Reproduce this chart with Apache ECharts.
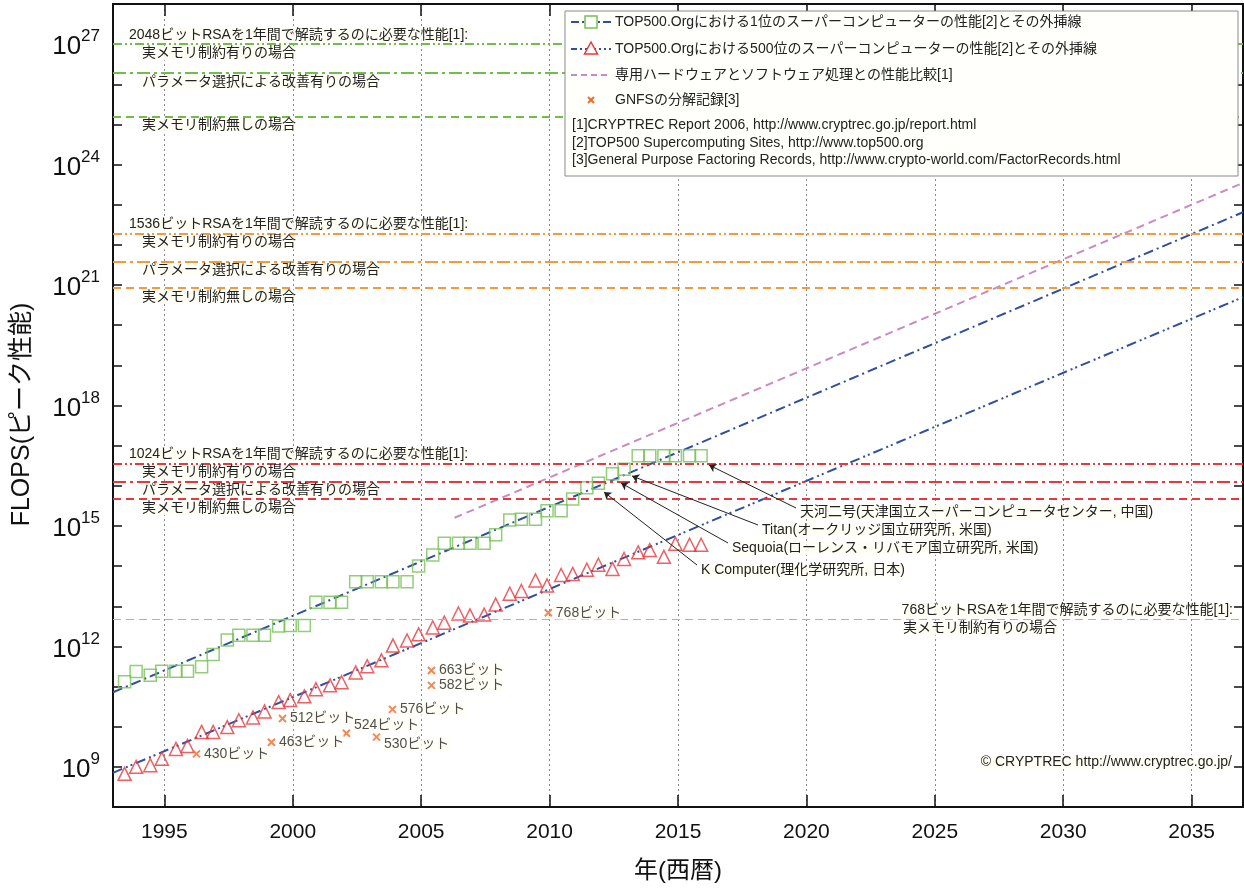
<!DOCTYPE html>
<html>
<head>
<meta charset="utf-8">
<title>FLOPS</title>
<script src="https://cdn.jsdelivr.net/npm/echarts@6/dist/echarts.min.js"></script>
<style>
  html, body { margin: 0; padding: 0; background: #fff; }
  #main { width: 1244px; height: 888px; }
</style>
</head>
<body>
<div id="main"></div>
<script>
// TOP500 list dates (June / November)
var listYears = [
  1993.45, 1993.9, 1994.45, 1994.9, 1995.45, 1995.9, 1996.45, 1996.9, 1997.45, 1997.9,
  1998.45, 1998.9, 1999.45, 1999.9, 2000.45, 2000.9, 2001.45, 2001.9, 2002.45, 2002.9,
  2003.45, 2003.9, 2004.45, 2004.9, 2005.45, 2005.9, 2006.45, 2006.9, 2007.45, 2007.9,
  2008.45, 2008.9, 2009.45, 2009.9, 2010.45, 2010.9, 2011.45, 2011.9, 2012.45, 2012.9,
  2013.45, 2013.9, 2014.45, 2014.9, 2015.45, 2015.9
];
// 1位 peak FLOPS
var top1Flops = [
  1.31e11, 2.36e11, 1.9e11, 2.4e11, 2.4e11, 2.4e11, 3.1e11, 6.3e11, 1.45e12, 1.9e12,
  1.9e12, 1.9e12, 3.2e12, 3.3e12, 3.3e12, 1.25e13, 1.25e13, 1.25e13, 4.1e13, 4.1e13,
  4.1e13, 4.1e13, 4.1e13, 1.0e14, 1.9e14, 3.7e14, 3.7e14, 3.7e14, 3.7e14, 6.0e14,
  1.4e15, 1.46e15, 1.46e15, 2.4e15, 2.4e15, 4.7e15, 9.0e15, 1.15e16, 2.0e16, 2.6e16,
  5.6e16, 5.6e16, 5.6e16, 5.6e16, 5.6e16, 5.6e16
];
// 500位 peak FLOPS
var top500Flops = [
  6.7e8, 1.0e9, 1.1e9, 1.6e9, 2.8e9, 3.3e9, 7.4e9, 7.4e9, 9.8e9, 1.45e10,
  1.7e10, 2.4e10, 4.1e10, 4.6e10, 5.7e10, 8.6e10, 1.07e11, 1.28e11, 2.25e11, 3.2e11,
  4.5e11, 1.05e12, 1.4e12, 2.0e12, 2.95e12, 3.9e12, 6.6e12, 5.9e12, 6.2e12, 1.1e13,
  2.05e13, 2.4e13, 4.4e13, 3.3e13, 6.0e13, 6.4e13, 8.1e13, 1.08e14, 8.5e13, 1.5e14,
  2.2e14, 2.5e14, 1.7e14, 3.6e14, 3.4e14, 3.4e14
];

// extrapolation lines (end points)
var top1FitYears = [1993, 2037];
var top1FitFlops = [7.2e10, 6.5e22];
var top500FitYears = [1993, 2037];
var top500FitFlops = [7.1e8, 5.0e20];
var hwYears = [2006.3, 2037];
var hwFlops = [1.6e15, 3.5e23];

// GNFS factoring records
var gnfsNames = ['430ビット', '463ビット', '512ビット', '524ビット', '530ビット', '576ビット', '663ビット', '582ビット', '768ビット'];
var gnfsYears = [1996.25, 1999.17, 1999.6, 2002.09, 2003.26, 2003.88, 2005.4, 2005.4, 2009.95];
var gnfsFlops = [2.1e9, 4.1e9, 1.6e10, 6.9e9, 5.5e9, 2.7e10, 2.5e11, 1.07e11, 6.9e12];

// RSA thresholds: 実メモリ制約有り / パラメータ選択 / 実メモリ制約無し
var rsa2048 = [1.0e27, 1.9e26, 1.6e25];
var rsa1536 = [1.95e22, 3.9e21, 8.5e20];
var rsa1024 = [3.6e16, 1.3e16, 4.7e15];
var rsa768 = [4.7e12];

var caseNames = ['実メモリ制約有りの場合', 'パラメータ選択による改善有りの場合', '実メモリ制約無しの場合'];
var headerText = function (bits) { return bits + 'ビットRSAを1年間で解読するのに必要な性能[1]:'; };

var FONT = '"Liberation Sans", "Noto Sans CJK JP", sans-serif';
var LABEL_BG = 'rgba(255,255,244,0.8)';
var dashStyles = [[9, 3, 2, 3, 2, 3], [13, 4, 3, 4], [8, 5]];

// the y axis is drawn in decades (log10 of FLOPS)
function lg(v) { return Math.log10(v); }

function zip(xs, ys) {
  return xs.map(function (x, i) { return [x, lg(ys[i])]; });
}

function textLabel(text, position, distance) {
  return {
    show: true, formatter: text, position: position, distance: distance,
    color: '#222', fontSize: 14, fontFamily: FONT, backgroundColor: LABEL_BG
  };
}

function thresholdLines(values, bits, color) {
  var items = [];
  values.forEach(function (v, i) {
    items.push({
      yAxis: lg(v),
      lineStyle: { color: color, width: 2, type: dashStyles[i] },
      label: textLabel(caseNames[i], 'insideStartBottom', [29, 2])
    });
  });
  items.push({
    yAxis: lg(values[0]),
    lineStyle: { color: 'rgba(0,0,0,0)', width: 0 },
    label: textLabel(headerText(bits), 'insideStartTop', [16, 2])
  });
  return items;
}

var markItems = []
  .concat(thresholdLines(rsa2048, 2048, '#72bd45'))
  .concat(thresholdLines(rsa1536, 1536, '#f39a3e'))
  .concat(thresholdLines(rsa1024, 1024, '#e8383d'));
markItems.push({
  yAxis: lg(rsa768[0]),
  lineStyle: { color: '#92cc78', width: 1.2, type: [8, 5] },
  label: textLabel(headerText(768), 'insideEndTop', [10, 2])
});
markItems.push({
  yAxis: lg(rsa768[0]),
  lineStyle: { color: 'rgba(0,0,0,0)', width: 0 },
  label: textLabel(caseNames[0], 'insideEndBottom', [186, 2])
});

// arrows to the named machines (pixel positions of tail / head)
var arrowLines = [
  [{ x: 796, y: 508 }, { x: 709, y: 465 }],
  [{ x: 758, y: 525 }, { x: 632, y: 476 }],
  [{ x: 728, y: 543 }, { x: 621, y: 483 }],
  [{ x: 697, y: 565 }, { x: 604, y: 492 }]
];
var machineNotes = [
  { text: '天河二号(天津国立スーパーコンピュータセンター, 中国)', x: 800, y: 512 },
  { text: 'Titan(オークリッジ国立研究所, 米国)', x: 762, y: 530 },
  { text: 'Sequoia(ローレンス・リバモア国立研究所, 米国)', x: 732, y: 548 },
  { text: 'K Computer(理化学研究所, 日本)', x: 701, y: 570 }
];

var legendRows = [
  'TOP500.Orgにおける1位のスーパーコンピューターの性能[2]とその外挿線',
  'TOP500.Orgにおける500位のスーパーコンピューターの性能[2]とその外挿線',
  '専用ハードウェアとソフトウェア処理との性能比較[1]',
  'GNFSの分解記録[3]'
];
var legendRefs = [
  '[1]CRYPTREC Report 2006, http://www.cryptrec.go.jp/report.html',
  '[2]TOP500 Supercomputing Sites, http://www.top500.org',
  '[3]General Purpose Factoring Records, http://www.crypto-world.com/FactorRecords.html'
];

function buildLegend() {
  var els = [];
  var rowY = [22, 49, 75, 100];
  var refY = [125, 143, 160];
  els.push({
    type: 'rect', z: 100,
    shape: { x: 565, y: 11, width: 673, height: 165 },
    style: { fill: '#fffffb', stroke: '#8a8a8a', lineWidth: 1 }
  });
  var lineStyles = [
    { stroke: '#2f4f9f', lineWidth: 2, lineDash: [8, 3, 2, 3] },
    { stroke: '#2f4f9f', lineWidth: 2, lineDash: [6, 3, 2, 3, 2, 3] },
    { stroke: '#c98bc2', lineWidth: 2, lineDash: [6, 4] }
  ];
  lineStyles.forEach(function (st, i) {
    els.push({ type: 'line', z: 101, shape: { x1: 571, y1: rowY[i], x2: 611, y2: rowY[i] }, style: st });
  });
  els.push({
    type: 'rect', z: 102, shape: { x: 585, y: rowY[0] - 6, width: 12, height: 12 },
    style: { fill: '#fffffb', stroke: '#77c055', lineWidth: 1.5 }
  });
  els.push({
    type: 'polygon', z: 102,
    shape: { points: [[591, rowY[1] - 7], [597.5, rowY[1] + 5], [584.5, rowY[1] + 5]] },
    style: { fill: '#fffffb', stroke: '#e8383d', lineWidth: 1.5 }
  });
  els.push({ type: 'line', z: 102, shape: { x1: 588, y1: rowY[3] - 3, x2: 594, y2: rowY[3] + 3 }, style: { stroke: '#ee6a2c', lineWidth: 2 } });
  els.push({ type: 'line', z: 102, shape: { x1: 594, y1: rowY[3] - 3, x2: 588, y2: rowY[3] + 3 }, style: { stroke: '#ee6a2c', lineWidth: 2 } });
  legendRows.forEach(function (t, i) {
    els.push({
      type: 'text', z: 102, x: 615, y: rowY[i],
      style: { text: t, fill: '#222', font: '14px ' + FONT, textVerticalAlign: 'middle' }
    });
  });
  legendRefs.forEach(function (t, i) {
    els.push({
      type: 'text', z: 102, x: 572, y: refY[i],
      style: { text: t, fill: '#222', font: '14px ' + FONT, textVerticalAlign: 'middle' }
    });
  });
  return els;
}

function buildNotes() {
  var els = machineNotes.map(function (n) {
    return {
      type: 'text', z: 50, x: n.x, y: n.y,
      style: {
        text: n.text, fill: '#222', font: '14px ' + FONT, textVerticalAlign: 'middle',
        backgroundColor: LABEL_BG
      }
    };
  });
  els.push({
    type: 'text', z: 50, x: 1232, y: 762,
    style: {
      text: '© CRYPTREC http://www.cryptrec.go.jp/', fill: '#222', font: '14px ' + FONT,
      textAlign: 'right', textVerticalAlign: 'middle', backgroundColor: LABEL_BG
    }
  });
  return els;
}

function expLabel(value) {
  var e = Math.round(value);
  if (e % 3 !== 0) {
    return '';
  }
  return '{b|10}{s|' + e + '}';
}

// small vertical nudges so the GNFS labels do not collide
var gnfsLabelShift = { '524ビット': -8, '530ビット': 7 };

var axisLineStyle = { show: true, lineStyle: { color: '#111', width: 2 } };
var tickStyle = { color: '#111', width: 1.5 };

var option = {
  animation: false,
  backgroundColor: '#fff',
  textStyle: { fontFamily: FONT },
  grid: { left: 113, right: 1, top: 4, bottom: 80 },
  xAxis: [
    {
      type: 'value', min: 1993, max: 2037, minInterval: 5, maxInterval: 5,
      name: '年(西暦)', nameLocation: 'middle', nameGap: 52,
      nameTextStyle: { fontSize: 24, color: '#111', fontFamily: FONT },
      axisLine: axisLineStyle,
      axisTick: { show: true, inside: true, length: 12, lineStyle: tickStyle },
      axisLabel: {
        show: true, margin: 15, fontSize: 21, color: '#111', showMinLabel: false, showMaxLabel: false,
        fontFamily: '"Liberation Sans Narrow", "Liberation Sans", sans-serif',
        formatter: function (v) { return String(v); }
      },
      splitLine: { show: true, lineStyle: { color: '#8a8a8a', width: 1, type: [2, 3] } }
    },
    {
      type: 'value', position: 'top', min: 1993, max: 2037, minInterval: 5, maxInterval: 5,
      axisLine: axisLineStyle,
      axisTick: { show: true, inside: true, length: 12, lineStyle: tickStyle },
      axisLabel: { show: false },
      splitLine: { show: false }
    }
  ],
  yAxis: [
    {
      type: 'value', min: 8, max: 28, interval: 1,
      name: 'FLOPS(ピーク性能)', nameLocation: 'middle', nameGap: 78,
      nameTextStyle: { fontSize: 25, color: '#111', fontFamily: FONT, padding: [0, 18, 0, 0] },
      axisLine: axisLineStyle,
      axisTick: { show: true, inside: true, length: 9, lineStyle: tickStyle },
      axisLabel: {
        show: true, margin: 13, formatter: expLabel, color: '#111',
        rich: {
          b: { fontSize: 26, lineHeight: 32, verticalAlign: 'bottom', fontFamily: FONT, color: '#111' },
          s: { fontSize: 17, lineHeight: 19, verticalAlign: 'top', fontFamily: FONT, color: '#111' }
        }
      },
      splitLine: { show: false }
    },
    {
      type: 'value', min: 8, max: 28, interval: 1, position: 'right',
      axisLine: axisLineStyle,
      axisTick: { show: true, inside: true, length: 9, lineStyle: tickStyle },
      axisLabel: { show: false },
      splitLine: { show: false }
    }
  ],
  graphic: { elements: buildLegend().concat(buildNotes()) },
  series: [
    {
      name: 'thresholds', type: 'line', data: [], silent: true, z: 2,
      markLine: { silent: true, symbol: ['none', 'none'], data: markItems, animation: false }
    },
    {
      name: 'hw', type: 'line', data: zip(hwYears, hwFlops), showSymbol: false, silent: true, z: 3,
      lineStyle: { color: '#c98bc2', width: 2, type: [8, 5] }
    },
    {
      name: 'top1Fit', type: 'line', data: zip(top1FitYears, top1FitFlops), showSymbol: false, silent: true, z: 3,
      lineStyle: { color: '#2f4f9f', width: 2, type: [10, 4, 2, 4] }
    },
    {
      name: 'top500Fit', type: 'line', data: zip(top500FitYears, top500FitFlops), showSymbol: false, silent: true, z: 3,
      lineStyle: { color: '#2f4f9f', width: 2, type: [10, 4, 2, 3, 2, 4] }
    },
    {
      name: 'top1', type: 'scatter', data: zip(listYears, top1Flops), symbol: 'rect', symbolSize: 12, silent: true, z: 4,
      itemStyle: { color: 'rgba(255,255,255,0)', borderColor: '#77c055', borderWidth: 1.5 }
    },
    {
      name: 'top500', type: 'scatter', data: zip(listYears, top500Flops), symbol: 'triangle', symbolSize: 13, silent: true, z: 4,
      itemStyle: { color: 'rgba(255,255,255,0)', borderColor: '#e8383d', borderWidth: 1.5 }
    },
    {
      name: 'gnfs', type: 'scatter', silent: true, z: 5,
      data: gnfsYears.map(function (y, i) {
        var item = { name: gnfsNames[i], value: [y, lg(gnfsFlops[i])] };
        if (gnfsLabelShift[gnfsNames[i]]) {
          item.label = { offset: [0, gnfsLabelShift[gnfsNames[i]]] };
        }
        return item;
      }),
      symbol: 'path://M0,0L10,10M10,0L0,10', symbolSize: 7,
      itemStyle: { color: 'rgba(0,0,0,0)', borderColor: '#ee6a2c', borderWidth: 2 },
      label: {
        show: true, position: 'right', distance: 3, formatter: '{b}', color: '#222',
        fontSize: 14, fontFamily: FONT, backgroundColor: LABEL_BG
      }
    },
    {
      name: 'arrows', type: 'line', data: [], silent: true, z: 6,
      markLine: {
        silent: true, symbol: ['none', 'arrow'], symbolSize: 7, animation: false,
        label: { show: false },
        lineStyle: { color: '#222', width: 1, type: 'solid' },
        data: arrowLines
      }
    }
  ]
};

var chart = echarts.init(document.getElementById('main'));
chart.setOption(option);
</script>
</body>
</html>
